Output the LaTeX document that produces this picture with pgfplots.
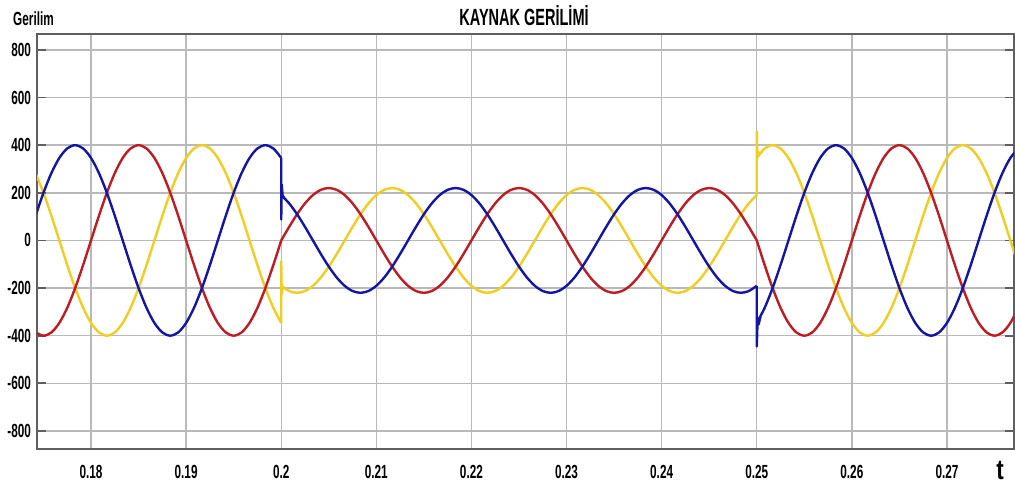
\documentclass[border=0pt]{standalone}
\usepackage{pgfplots}
\pgfplotsset{compat=1.18}
\usepackage{pgfplotstable}
\usepackage{fontspec}
\setmainfont{Liberation Sans}[FakeStretch=0.62]
\newfontfamily\tfont{Liberation Sans}[FakeStretch=0.8]

\definecolor{phaseR}{RGB}{190,28,35}
\definecolor{phaseB}{RGB}{20,20,165}
\definecolor{phaseY}{RGB}{240,205,35}
\definecolor{gridc}{RGB}{185,185,185}
\definecolor{framec}{RGB}{95,95,95}

% Source voltage, 50 Hz, three phases: before the sag (400 V peak)
\pgfplotstableread{
t r b y
0.174167 -386.4 103.5 282.8
0.175 -400 200 200
0.175833 -386.4 282.8 103.5
0.176667 -346.4 346.4 0
0.1775 -282.8 386.4 -103.5
0.178333 -200 400 -200
0.179167 -103.5 386.4 -282.8
0.18 0 346.4 -346.4
0.180833 103.5 282.8 -386.4
0.181667 200 200 -400
0.1825 282.8 103.5 -386.4
0.183333 346.4 0 -346.4
0.184167 386.4 -103.5 -282.8
0.185 400 -200 -200
0.185833 386.4 -282.8 -103.5
0.186667 346.4 -346.4 0
0.1875 282.8 -386.4 103.5
0.188333 200 -400 200
0.189167 103.5 -386.4 282.8
0.19 0 -346.4 346.4
0.190833 -103.5 -282.8 386.4
0.191667 -200 -200 400
0.1925 -282.8 -103.5 386.4
0.193333 -346.4 0 346.4
0.194167 -386.4 103.5 282.8
0.195 -400 200 200
0.195833 -386.4 282.8 103.5
0.196667 -346.4 346.4 0
0.1975 -282.8 386.4 -103.5
0.198333 -200 400 -200
0.199167 -103.5 386.4 -282.8
0.2 0 346.4 -346.4
}\segA

% during the sag (220 V peak)
\pgfplotstableread{
t r b y
0.2 0 190.5 -190.5
0.200833 56.9 155.6 -212.5
0.201667 110 110 -220
0.2025 155.6 56.9 -212.5
0.203333 190.5 0 -190.5
0.204167 212.5 -56.9 -155.6
0.205 220 -110 -110
0.205833 212.5 -155.6 -56.9
0.206667 190.5 -190.5 0
0.2075 155.6 -212.5 56.9
0.208333 110 -220 110
0.209167 56.9 -212.5 155.6
0.21 0 -190.5 190.5
0.210833 -56.9 -155.6 212.5
0.211667 -110 -110 220
0.2125 -155.6 -56.9 212.5
0.213333 -190.5 0 190.5
0.214167 -212.5 56.9 155.6
0.215 -220 110 110
0.215833 -212.5 155.6 56.9
0.216667 -190.5 190.5 0
0.2175 -155.6 212.5 -56.9
0.218333 -110 220 -110
0.219167 -56.9 212.5 -155.6
0.22 0 190.5 -190.5
0.220833 56.9 155.6 -212.5
0.221667 110 110 -220
0.2225 155.6 56.9 -212.5
0.223333 190.5 0 -190.5
0.224167 212.5 -56.9 -155.6
0.225 220 -110 -110
0.225833 212.5 -155.6 -56.9
0.226667 190.5 -190.5 0
0.2275 155.6 -212.5 56.9
0.228333 110 -220 110
0.229167 56.9 -212.5 155.6
0.23 0 -190.5 190.5
0.230833 -56.9 -155.6 212.5
0.231667 -110 -110 220
0.2325 -155.6 -56.9 212.5
0.233333 -190.5 0 190.5
0.234167 -212.5 56.9 155.6
0.235 -220 110 110
0.235833 -212.5 155.6 56.9
0.236667 -190.5 190.5 0
0.2375 -155.6 212.5 -56.9
0.238333 -110 220 -110
0.239167 -56.9 212.5 -155.6
0.24 0 190.5 -190.5
0.240833 56.9 155.6 -212.5
0.241667 110 110 -220
0.2425 155.6 56.9 -212.5
0.243333 190.5 0 -190.5
0.244167 212.5 -56.9 -155.6
0.245 220 -110 -110
0.245833 212.5 -155.6 -56.9
0.246667 190.5 -190.5 0
0.2475 155.6 -212.5 56.9
0.248333 110 -220 110
0.249167 56.9 -212.5 155.6
0.25 0 -190.5 190.5
}\segB

% after recovery (400 V peak)
\pgfplotstableread{
t r b y
0.25 0 -346.4 346.4
0.250833 -103.5 -282.8 386.4
0.251667 -200 -200 400
0.2525 -282.8 -103.5 386.4
0.253333 -346.4 0 346.4
0.254167 -386.4 103.5 282.8
0.255 -400 200 200
0.255833 -386.4 282.8 103.5
0.256667 -346.4 346.4 0
0.2575 -282.8 386.4 -103.5
0.258333 -200 400 -200
0.259167 -103.5 386.4 -282.8
0.26 0 346.4 -346.4
0.260833 103.5 282.8 -386.4
0.261667 200 200 -400
0.2625 282.8 103.5 -386.4
0.263333 346.4 0 -346.4
0.264167 386.4 -103.5 -282.8
0.265 400 -200 -200
0.265833 386.4 -282.8 -103.5
0.266667 346.4 -346.4 0
0.2675 282.8 -386.4 103.5
0.268333 200 -400 200
0.269167 103.5 -386.4 282.8
0.27 0 -346.4 346.4
0.270833 -103.5 -282.8 386.4
0.271667 -200 -200 400
0.2725 -282.8 -103.5 386.4
0.273333 -346.4 0 346.4
0.274167 -386.4 103.5 282.8
0.275 -400 200 200
0.275833 -386.4 282.8 103.5
0.276667 -346.4 346.4 0
0.2775 -282.8 386.4 -103.5
}\segC

\begin{document}
\begin{tikzpicture}
\begin{axis}[
  scale only axis,
  width=488.5pt, height=207.5pt,
  xmin=0.17432, xmax=0.27705,
  ymin=-876, ymax=867,
  xtick={0.18,0.19,0.2,0.21,0.22,0.23,0.24,0.25,0.26,0.27},
  xticklabels={0.18,0.19,0.2,0.21,0.22,0.23,0.24,0.25,0.26,0.27},
  ytick={-800,-600,-400,-200,0,200,400,600,800},
  yticklabels={-800,-600,-400,-200,0,200,400,600,800},
  grid=major,
  major grid style={gridc, line width=0.7pt},
  axis line style={framec, line width=0.9pt},
  tick align=inside,
  major tick length=4.5pt,
  ytick style={framec, line width=0.9pt},
  xtick style={draw=none},
  ytick pos=both, yticklabel pos=left,
  xtick pos=bottom,
  tick label style={font=\bfseries\fontsize{9.5}{11}\selectfont, text=black},
  xticklabel style={yshift=-4.5pt},
  yticklabel style={xshift=0.5pt},
  every axis plot/.append style={line width=1.2pt, line join=round},
]
% phase voltages
\addplot[phaseY, smooth] table[x=t, y=y] {\segA};
\addplot[phaseR, smooth] table[x=t, y=r] {\segA};
\addplot[phaseB, smooth] table[x=t, y=b] {\segA};
\addplot[phaseY, smooth] table[x=t, y=y] {\segB};
\addplot[phaseR, smooth] table[x=t, y=r] {\segB};
\addplot[phaseB, smooth] table[x=t, y=b] {\segB};
\addplot[phaseY, smooth] table[x=t, y=y] {\segC};
\addplot[phaseR, smooth] table[x=t, y=r] {\segC};
\addplot[phaseB, smooth] table[x=t, y=b] {\segC};
% switching transients at the start and end of the sag
\addplot[phaseY] coordinates {(0.2,-346.4) (0.2,-88) (0.20005,-226) (0.20015,-196) (0.2003,-200)};
\addplot[phaseB] coordinates {(0.2,346.4) (0.2,88) (0.20005,235) (0.20015,186) (0.2003,179)};
\addplot[phaseY] coordinates {(0.25,190.5) (0.25,458) (0.25005,360) (0.25015,372) (0.2503,364)};
\addplot[phaseB] coordinates {(0.25,-190.5) (0.25,-445) (0.25008,-345) (0.2502,-352) (0.2504,-319)};
\end{axis}
\node[font=\bfseries\fontsize{11.7}{14}\selectfont] at (243.5pt,216.5pt) {KAYNAK GERİLİMİ};
\node[font=\bfseries\fontsize{9.5}{11}\selectfont] at (-1.75pt,215pt) {Gerilim};
\node[font=\tfont\bfseries\fontsize{14}{16}\selectfont] at (481.5pt,-10.5pt) {t};
\pgfresetboundingbox
\useasboundingbox (-18.5pt,-20pt) rectangle (489pt,224.5pt);
\end{tikzpicture}
\end{document}
